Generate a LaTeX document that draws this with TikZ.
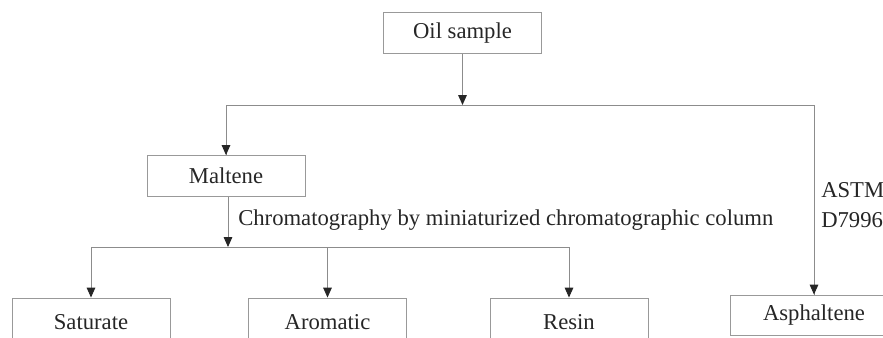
\documentclass[tikz,border=0pt]{standalone}
\usepackage{fontspec}
\setmainfont{Liberation Serif}
\usetikzlibrary{arrows.meta}

\tikzset{
  box/.style={draw=black!40, line width=0.7, minimum width=118.5pt, minimum height=30.75pt, inner sep=0.75pt, text=black!85},
  arr/.style={draw=black!45, line width=0.7, -{Triangle[length=7.5,width=6.5,color=black!85]}},
  lbl/.style={anchor=west, inner sep=0.75pt, align=left, text=black!85}
}

\begin{document}
\begin{tikzpicture}[x=0.75pt,y=0.75pt,yscale=-1,xscale=1,font=\fontsize{17}{22.5}\selectfont]
\useasboundingbox (0,0) rectangle (883,337);
\clip (0,0) rectangle (883,337);

% boxes
\node[box] (oil) at (462.5,33) {Oil sample};
\node[box] (malt) at (226,176) {Maltene};
\node[box, minimum height=36pt] (sat) at (91,322) {Saturate};
\node[box, minimum height=36pt] (arom) at (327.5,322) {Aromatic};
\node[box, minimum height=36pt] (resin) at (569,322) {Resin};
\node[box, minimum width=126pt, minimum height=30pt] (asph) at (814,315) {Asphaltene};

% junctions
\coordinate (top) at (462.5,105);
\coordinate (mid) at (228,247);

% first split
\draw[arr] (oil) -- (top);
\draw[draw=black!45, line width=0.7] (top) -| (malt.north);
\draw[draw=black!45, line width=0.7] (top) -| (asph.north);
\draw[arr] (malt.north |- top) -- (malt.north);
\draw[arr] (asph.north |- top) -- (asph.north);

% second split
\draw[arr] (malt.south -| mid) -- (mid);
\draw[draw=black!45, line width=0.7] (sat.north |- mid) -- (resin.north |- mid);
\draw[arr] (sat.north |- mid) -- (sat.north);
\draw[arr] (arom.north |- mid) -- (arom.north);
\draw[arr] (resin.north |- mid) -- (resin.north);

% labels
\node[lbl] (chrom) at (237,220) {Chromatography by miniaturized chromatographic column};
\node[lbl] (astm) at (820,205) {ASTM\\D7996};

\end{tikzpicture}
\end{document}
